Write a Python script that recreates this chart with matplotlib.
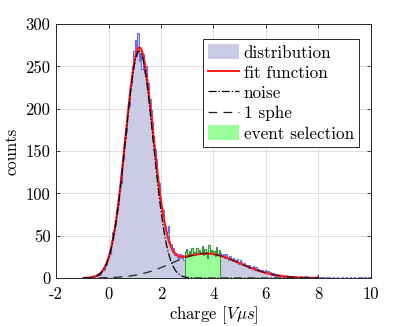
import numpy as np
import matplotlib
matplotlib.use("Agg")
import matplotlib.pyplot as plt
from matplotlib.patches import Patch
from matplotlib.lines import Line2D

plt.rcParams['font.family'] = 'serif'
plt.rcParams['font.serif'] = ['cmr10']
plt.rcParams['mathtext.fontset'] = 'cm'
plt.rcParams['axes.formatter.use_mathtext'] = False
plt.rcParams['axes.unicode_minus'] = False

# histogram of the charge, bins of 0.05 from -1 to 10
bin_edges = np.round(np.arange(-1.0, 10.0001, 0.05), 3)
counts = [
    0, 0, 0, 1, 0, 1, 0, 2, 1, 3,
    2, 4, 6, 4, 8, 11, 10, 16, 15, 24,
    31, 29, 44, 55, 58, 63, 80, 86, 105, 112,
    134, 141, 165, 172, 196, 203, 226, 229, 251, 268,
    281, 262, 289, 257, 266, 247, 265, 242, 250, 228,
    230, 211, 199, 184, 168, 152, 141, 118, 112, 90,
    84, 80, 63, 61, 55, 62, 44, 40, 31, 36,
    27, 30, 25, 22, 28, 24, 27, 21, 31, 34,
    28, 32, 26, 35, 28, 31, 27, 36, 29, 33,
    30, 38, 27, 34, 31, 24, 39, 30, 33, 28,
    32, 26, 37, 29, 33, 30, 27, 29, 24, 28,
    25, 21, 26, 23, 20, 24, 21, 19, 22, 17,
    21, 19, 15, 18, 14, 16, 12, 15, 13, 11,
    14, 10, 13, 9, 11, 10, 8, 9, 7, 9,
    6, 8, 6, 7, 4, 6, 5, 3, 4, 3,
    4, 2, 3, 1, 2, 3, 1, 2, 0, 2,
    1, 0, 2, 1, 0, 1, 2, 0, 1, 0,
    2, 1, 0, 1, 0, 1, 0, 0, 1, 2,
    0, 1, 0, 1, 0, 0, 1, 0, 1, 0,
    0, 1, 0, 0, 1, 0, 0, 0, 1, 0,
    0, 1, 0, 0, 1, 0, 0, 1, 0, 0,
    1, 0, 1, 0, 0, 1, 0, 0, 1, 0,
]

# event selection window
sel_lo, sel_hi = 2.9, 4.25

# fitted gaussians: amplitude, mean, sigma
noise_par = [268, 1.17, 0.53]
sphe_par = [29, 3.70, 1.30]

counts = np.array(counts)
x = np.linspace(-0.95, 8.0, 600)
noise = noise_par[0] * np.exp(-(x - noise_par[1])**2 / (2 * noise_par[2]**2))
sphe = sphe_par[0] * np.exp(-(x - sphe_par[1])**2 / (2 * sphe_par[2]**2))
fit = noise + sphe

lav = '#cbcbe6'
green = '#99ff99'

fig = plt.figure(figsize=(4.09, 3.26), dpi=100)
ax = fig.add_axes([0.137, 0.147, 0.770, 0.779])

ax.stairs(counts, bin_edges, fill=True, color=lav, zorder=2)
ax.stairs(counts, bin_edges, color='#4d4de6', lw=0.8, alpha=0.8, zorder=3)

i0 = int(round((sel_lo + 1.0) / 0.05))
i1 = int(round((sel_hi + 1.0) / 0.05))
ax.stairs(counts[i0:i1], bin_edges[i0:i1 + 1], fill=True, color=green, zorder=4)
ax.stairs(counts[i0:i1], bin_edges[i0:i1 + 1], color='#3a9a3a', lw=0.8, zorder=4)

ax.plot(x, fit, color='#ff1a1a', lw=1.6, zorder=5)
ax.plot(x, noise, color='k', lw=0.9, ls='-.', zorder=6)
ax.plot(x, sphe, color='#222222', lw=0.9, ls=(0, (7, 5)), zorder=6)

ax.set_xlim(-2, 10)
ax.set_ylim(0, 300)
ax.set_xticks(np.arange(-2, 11, 2))
ax.set_yticks(np.arange(0, 301, 50))
ax.grid(True, color='#d9d9d9', lw=0.6, zorder=0)
ax.set_axisbelow(True)
ax.tick_params(direction='in', top=True, right=True, labelsize=12,
               length=3, width=0.6, color='#262626')
ax.tick_params(axis='x', pad=6)
ax.tick_params(axis='y', pad=4)
for s in ax.spines.values():
    s.set_color('#262626')
    s.set_linewidth(0.7)

ax.set_xlabel(r'charge $[V\mu s]$', fontsize=12, labelpad=2)
ax.set_ylabel('counts', fontsize=12, labelpad=4)

handles = [
    Patch(facecolor=lav, edgecolor='none'),
    Line2D([], [], color='#ff1a1a', lw=1.4),
    Line2D([], [], color='k', lw=0.9, ls='-.'),
    Line2D([], [], color='#222222', lw=0.9, ls=(0, (7, 5))),
    Patch(facecolor=green, edgecolor='none'),
]
labels = ['distribution', 'fit function', 'noise', '1 sphe', 'event selection']
leg = ax.legend(handles, labels, loc='upper right', bbox_to_anchor=(0.973, 0.955),
                fontsize=12.3, fancybox=False, framealpha=1, edgecolor='#262626',
                borderpad=0.3, labelspacing=0.22, handlelength=1.8,
                handleheight=1.0, handletextpad=0.3, borderaxespad=0.2)
leg.get_frame().set_linewidth(0.7)

fig.savefig('out.png', dpi=100)
